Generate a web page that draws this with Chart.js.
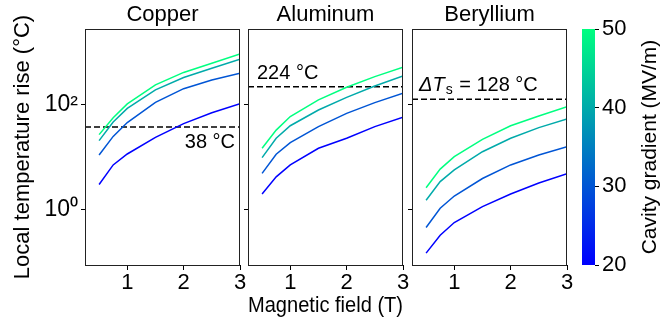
<!DOCTYPE html>
<html>
<head>
<meta charset="utf-8">
<script src="https://cdn.jsdelivr.net/npm/chart.js@4.4.1/dist/chart.umd.min.js"></script>
<style>
  body { margin: 0; background: #fff; }
  #wrap { position: relative; width: 672px; height: 325px; overflow: hidden; }
  canvas { position: absolute; top: 0; }
</style>
</head>
<body>
<div id="wrap">
  <canvas id="cu" width="262" height="325" style="left:0px"></canvas>
  <canvas id="al" width="195" height="325" style="left:230px"></canvas>
  <canvas id="be" width="195" height="325" style="left:394px"></canvas>
  <canvas id="cb" width="112" height="325" style="left:560px"></canvas>
</div>
<script>
// data
const field = [0.5, 0.75, 1, 1.5, 2, 2.5, 3];
const gradients = [20, 30, 40, 50];
const copperRise = [
  [3.0, 7.1, 11.5, 24, 44, 71, 106],
  [11, 25, 46, 112, 205, 300, 405],
  [20.7, 47, 86, 194, 335, 505, 750],
  [27, 57, 105, 242, 420, 630, 950]
];
const aluminumRise = [
  [1.97, 4.2, 7.1, 14.8, 23, 38.5, 58],
  [4.9, 11.4, 19, 38.5, 69, 111, 168],
  [9.8, 23, 40, 80, 140, 231, 360],
  [14.8, 33, 60, 125, 218, 349, 527]
];
const berylliumRise = [
  [0.145, 0.32, 0.56, 1.13, 1.97, 3.2, 4.8],
  [0.45, 1.05, 1.8, 3.9, 7.1, 11, 15.8],
  [1.5, 3.4, 5.7, 12.7, 23, 36.8, 54],
  [2.6, 5.9, 10.2, 22, 40, 61.5, 93]
];
const materials = ['Copper', 'Aluminum', 'Beryllium'];
const limits = [38, 224, 128];
const fieldRange = [0.25, 3];
const fieldTicks = [1, 2, 3];
const riseRange = [0.086, 2850];
const riseTicks = [1, 100];
const gradientRange = [20, 50];
const gradientTicks = [20, 30, 40, 50];

const FONT = "'Liberation Sans', Arial, sans-serif";
Chart.defaults.font.family = FONT;
Chart.defaults.color = '#000';

// matplotlib "winter"
function winter(g) {
  const t = (g - gradientRange[0]) / (gradientRange[1] - gradientRange[0]);
  return `rgb(0, ${Math.round(255 * t)}, ${Math.round(255 - 127.5 * t)})`;
}

const sup = { '0': '\u2070', '2': '\u00b2' };

// panel box (all four spines)
const framePlugin = {
  id: 'frame',
  afterDatasetsDraw(chart) {
    const a = chart.chartArea, c = chart.ctx;
    c.save();
    c.strokeStyle = '#222';
    c.lineWidth = 1;
    c.strokeRect(Math.round(a.left) + 0.5, Math.round(a.top) + 0.5,
      Math.round(a.right - a.left) - 1, Math.round(a.bottom - a.top));
    c.restore();
  }
};

// panel title + threshold label
const textPlugin = {
  id: 'panelText',
  afterDraw(chart, args, opts) {
    const a = chart.chartArea, c = chart.ctx;
    c.save();
    c.fillStyle = '#000';
    c.textBaseline = 'middle';
    c.textAlign = 'center';
    c.font = `22px ${FONT}`;
    c.fillText(opts.title, (a.left + a.right) / 2, a.top - 14);
    const y = chart.scales.y.getPixelForValue(opts.limit) + opts.dy;
    c.font = `20px ${FONT}`;
    if (opts.align === 'right') {
      c.textAlign = 'right';
      c.fillText(opts.limit + ' \u00b0C', a.right - 5, y);
    } else if (opts.subscript) {
      c.textAlign = 'left';
      let x = a.left + 7;
      c.font = `italic 20px ${FONT}`;
      c.fillText('\u0394T', x, y);
      x += c.measureText('\u0394T').width + 1;
      c.font = `14px ${FONT}`;
      c.fillText('s', x, y + 5);
      x += c.measureText('s').width + 1;
      c.font = `20px ${FONT}`;
      c.fillText(' = ' + opts.limit + ' \u00b0C', x, y);
    } else {
      c.textAlign = 'left';
      c.fillText(opts.limit + ' \u00b0C', a.left + 9, y);
    }
    c.restore();
  }
};

function makePanel(id, idx, rise, note) {
  const first = idx === 0;
  const datasets = rise.map((vals, i) => ({
    data: field.map((b, j) => ({ x: b, y: vals[j] })),
    borderColor: winter(gradients[i]),
    borderWidth: 1.5,
    pointRadius: 0,
    tension: 0
  }));
  datasets.push({
    data: fieldRange.map(b => ({ x: b, y: limits[idx] })),
    borderColor: '#000',
    borderWidth: 1.5,
    borderDash: [6, 3],
    pointRadius: 0
  });
  const canvas = document.getElementById(id);
  const plotRight = [240, 403, 567][idx];
  const canvasLeft = [0, 230, 394][idx];
  return new Chart(canvas, {
    type: 'line',
    data: { datasets },
    plugins: [framePlugin, textPlugin],
    options: {
      responsive: false,
      animation: false,
      layout: { padding: { left: 0, right: canvas.width + canvasLeft - plotRight, top: 29, bottom: 0 } },
      plugins: {
        legend: { display: false },
        tooltip: { enabled: false },
        panelText: Object.assign({ title: materials[idx], limit: limits[idx] }, note)
      },
      scales: {
        x: {
          type: 'linear',
          min: fieldRange[0], max: fieldRange[1],
          afterBuildTicks: s => { s.ticks = fieldTicks.map(v => ({ value: v })); },
          afterFit: s => { s.height = 60; },
          ticks: { font: { size: 22 }, padding: 0, maxRotation: 0 },
          grid: { drawOnChartArea: false, tickLength: 5, color: '#000' },
          border: { display: false },
          title: { display: idx === 1, text: 'Magnetic field (T)', font: { size: 22 }, padding: { top: 0, bottom: 6 } }
        },
        y: {
          type: 'logarithmic',
          min: riseRange[0], max: riseRange[1],
          afterBuildTicks: s => { s.ticks = riseTicks.map(v => ({ value: v })); },
          afterFit: s => { s.width = first ? 85 : 18; },
          ticks: {
            font: { size: 23 }, padding: 3,
            callback: v => first ? '10' + sup[String(Math.round(Math.log10(v)))] : ''
          },
          grid: { drawOnChartArea: false, tickLength: 4, color: '#000' },
          border: { display: false },
          title: { display: first, text: 'Local temperature rise (\u00b0C)', font: { size: 22 }, padding: { top: 10, bottom: 0 } }
        }
      }
    }
  });
}

makePanel('cu', 0, copperRise, { align: 'right', dy: 16 });
makePanel('al', 1, aluminumRise, { align: 'left', dy: -13 });
makePanel('be', 2, berylliumRise, { align: 'left', dy: -14, subscript: true });

// colorbar label, read bottom to top
const cbTitle = {
  id: 'cbTitle',
  afterDraw(chart) {
    const a = chart.chartArea, c = chart.ctx;
    c.save();
    c.translate(90, (a.top + a.bottom) / 2);
    c.rotate(-Math.PI / 2);
    c.font = `21px ${FONT}`;
    c.fillStyle = '#000';
    c.textAlign = 'center';
    c.textBaseline = 'middle';
    c.fillText('Cavity gradient (MV/m)', 0, 0);
    c.restore();
  }
};

new Chart(document.getElementById('cb'), {
  type: 'bar',
  data: {
    labels: ['g'],
    datasets: [{
      data: [gradientRange],
      barPercentage: 1,
      categoryPercentage: 1,
      borderWidth: 0,
      backgroundColor: ctx => {
        const ch = ctx.chart;
        if (!ch.chartArea) return winter(35);
        const ys = ch.scales.y;
        const g = ch.ctx.createLinearGradient(0, ys.getPixelForValue(gradientRange[0]), 0, ys.getPixelForValue(gradientRange[1]));
        g.addColorStop(0, winter(gradientRange[0]));
        g.addColorStop(1, winter(gradientRange[1]));
        return g;
      }
    }]
  },
  plugins: [cbTitle],
  options: {
    responsive: false,
    animation: false,
    layout: { padding: { left: 22, right: 0, top: 29, bottom: 60 } },
    plugins: { legend: { display: false }, tooltip: { enabled: false } },
    scales: {
      x: { display: false },
      y: {
        position: 'right',
        min: gradientRange[0], max: gradientRange[1],
        afterBuildTicks: s => { s.ticks = gradientTicks.map(v => ({ value: v })); },
        afterFit: s => { s.width = 77; },
        ticks: { font: { size: 22 }, padding: 3 },
        grid: { drawOnChartArea: false, tickLength: 4, color: '#000' },
        border: { display: false }
      }
    }
  }
});
</script>
</body>
</html>
